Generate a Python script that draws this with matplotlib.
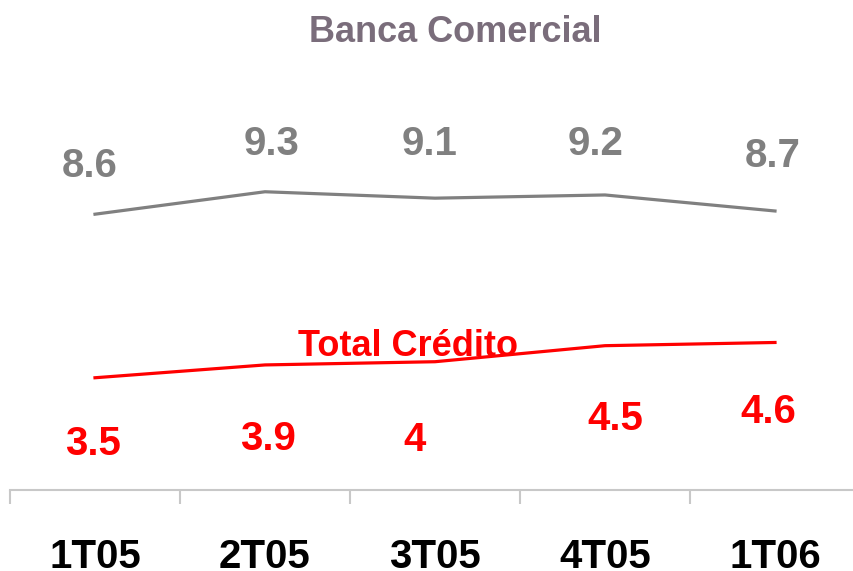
import matplotlib
matplotlib.use("Agg")
import matplotlib.pyplot as plt

categories = ["1T05", "2T05", "3T05", "4T05", "1T06"]
banca_comercial = [8.6, 9.3, 9.1, 9.2, 8.7]
total_credito = [3.5, 3.9, 4.0, 4.5, 4.6]
banca_labels = ["8.6", "9.3", "9.1", "9.2", "8.7"]
credito_labels = ["3.5", "3.9", "4", "4.5", "4.6"]

# label offsets (pixels, baseline relative to point): style only
banca_off = [(-5, 37), (7, 37), (-5, 43), (-9, 40), (-2, 44)]
credito_off = [(-2, -77), (3, -85), (-20, -89), (10, -84), (-7, -81)]

family = ["Liberation Sans", "DejaVu Sans"]
PT = 0.72  # points per pixel at dpi 100

W, H = 854, 571
fig = plt.figure(figsize=(W / 100, H / 100), dpi=100)
ax = fig.add_axes([10 / W, (H - 490) / H, 850 / W, 490 / H])
ax.set_xlim(-0.5, 4.5)
ax.set_ylim(0, 490 / 32.07)

x = list(range(len(categories)))
gray = "#808080"
red = "#ff0000"
ax.plot(x, banca_comercial, color=gray, lw=2.3)
ax.plot(x, total_credito, color=red, lw=2.3)

for xi, v, s, (dx, dy) in zip(x, banca_comercial, banca_labels, banca_off):
    ax.annotate(s, (xi, v), xytext=(dx * PT, dy * PT), textcoords="offset points",
                ha="center", va="baseline", fontsize=29, fontweight="bold",
                color=gray, family=family)
for xi, v, s, (dx, dy) in zip(x, total_credito, credito_labels, credito_off):
    ax.annotate(s, (xi, v), xytext=(dx * PT, dy * PT), textcoords="offset points",
                ha="center", va="baseline", fontsize=29, fontweight="bold",
                color=red, family=family)

# axis styling
for sp in ["top", "right", "left"]:
    ax.spines[sp].set_visible(False)
ax.spines["bottom"].set_color("#c8c8c8")
ax.spines["bottom"].set_linewidth(1.5)
ax.set_yticks([])
ax.set_xticks([i - 0.5 for i in range(len(categories) + 1)])
ax.set_xticklabels([])
ax.tick_params(axis="x", which="major", length=10, width=1.5, color="#c8c8c8")

for xi, c in zip(x, categories):
    ax.annotate(c, (xi, 0), xytext=(0, -78 * PT), textcoords="offset points",
                ha="center", va="baseline", fontsize=29, fontweight="bold",
                color="black", family=family, annotation_clip=False)

fig.text(455 / W, 1 - 42 / H, "Banca Comercial", ha="center", va="baseline",
         fontsize=26, fontweight="bold", color="#7a6d7b", family=family)
fig.text(408 / W, 1 - 356 / H, "Total Crédito", ha="center", va="baseline",
         fontsize=26, fontweight="bold", color=red, family=family)

fig.savefig("out.png", dpi=100)
